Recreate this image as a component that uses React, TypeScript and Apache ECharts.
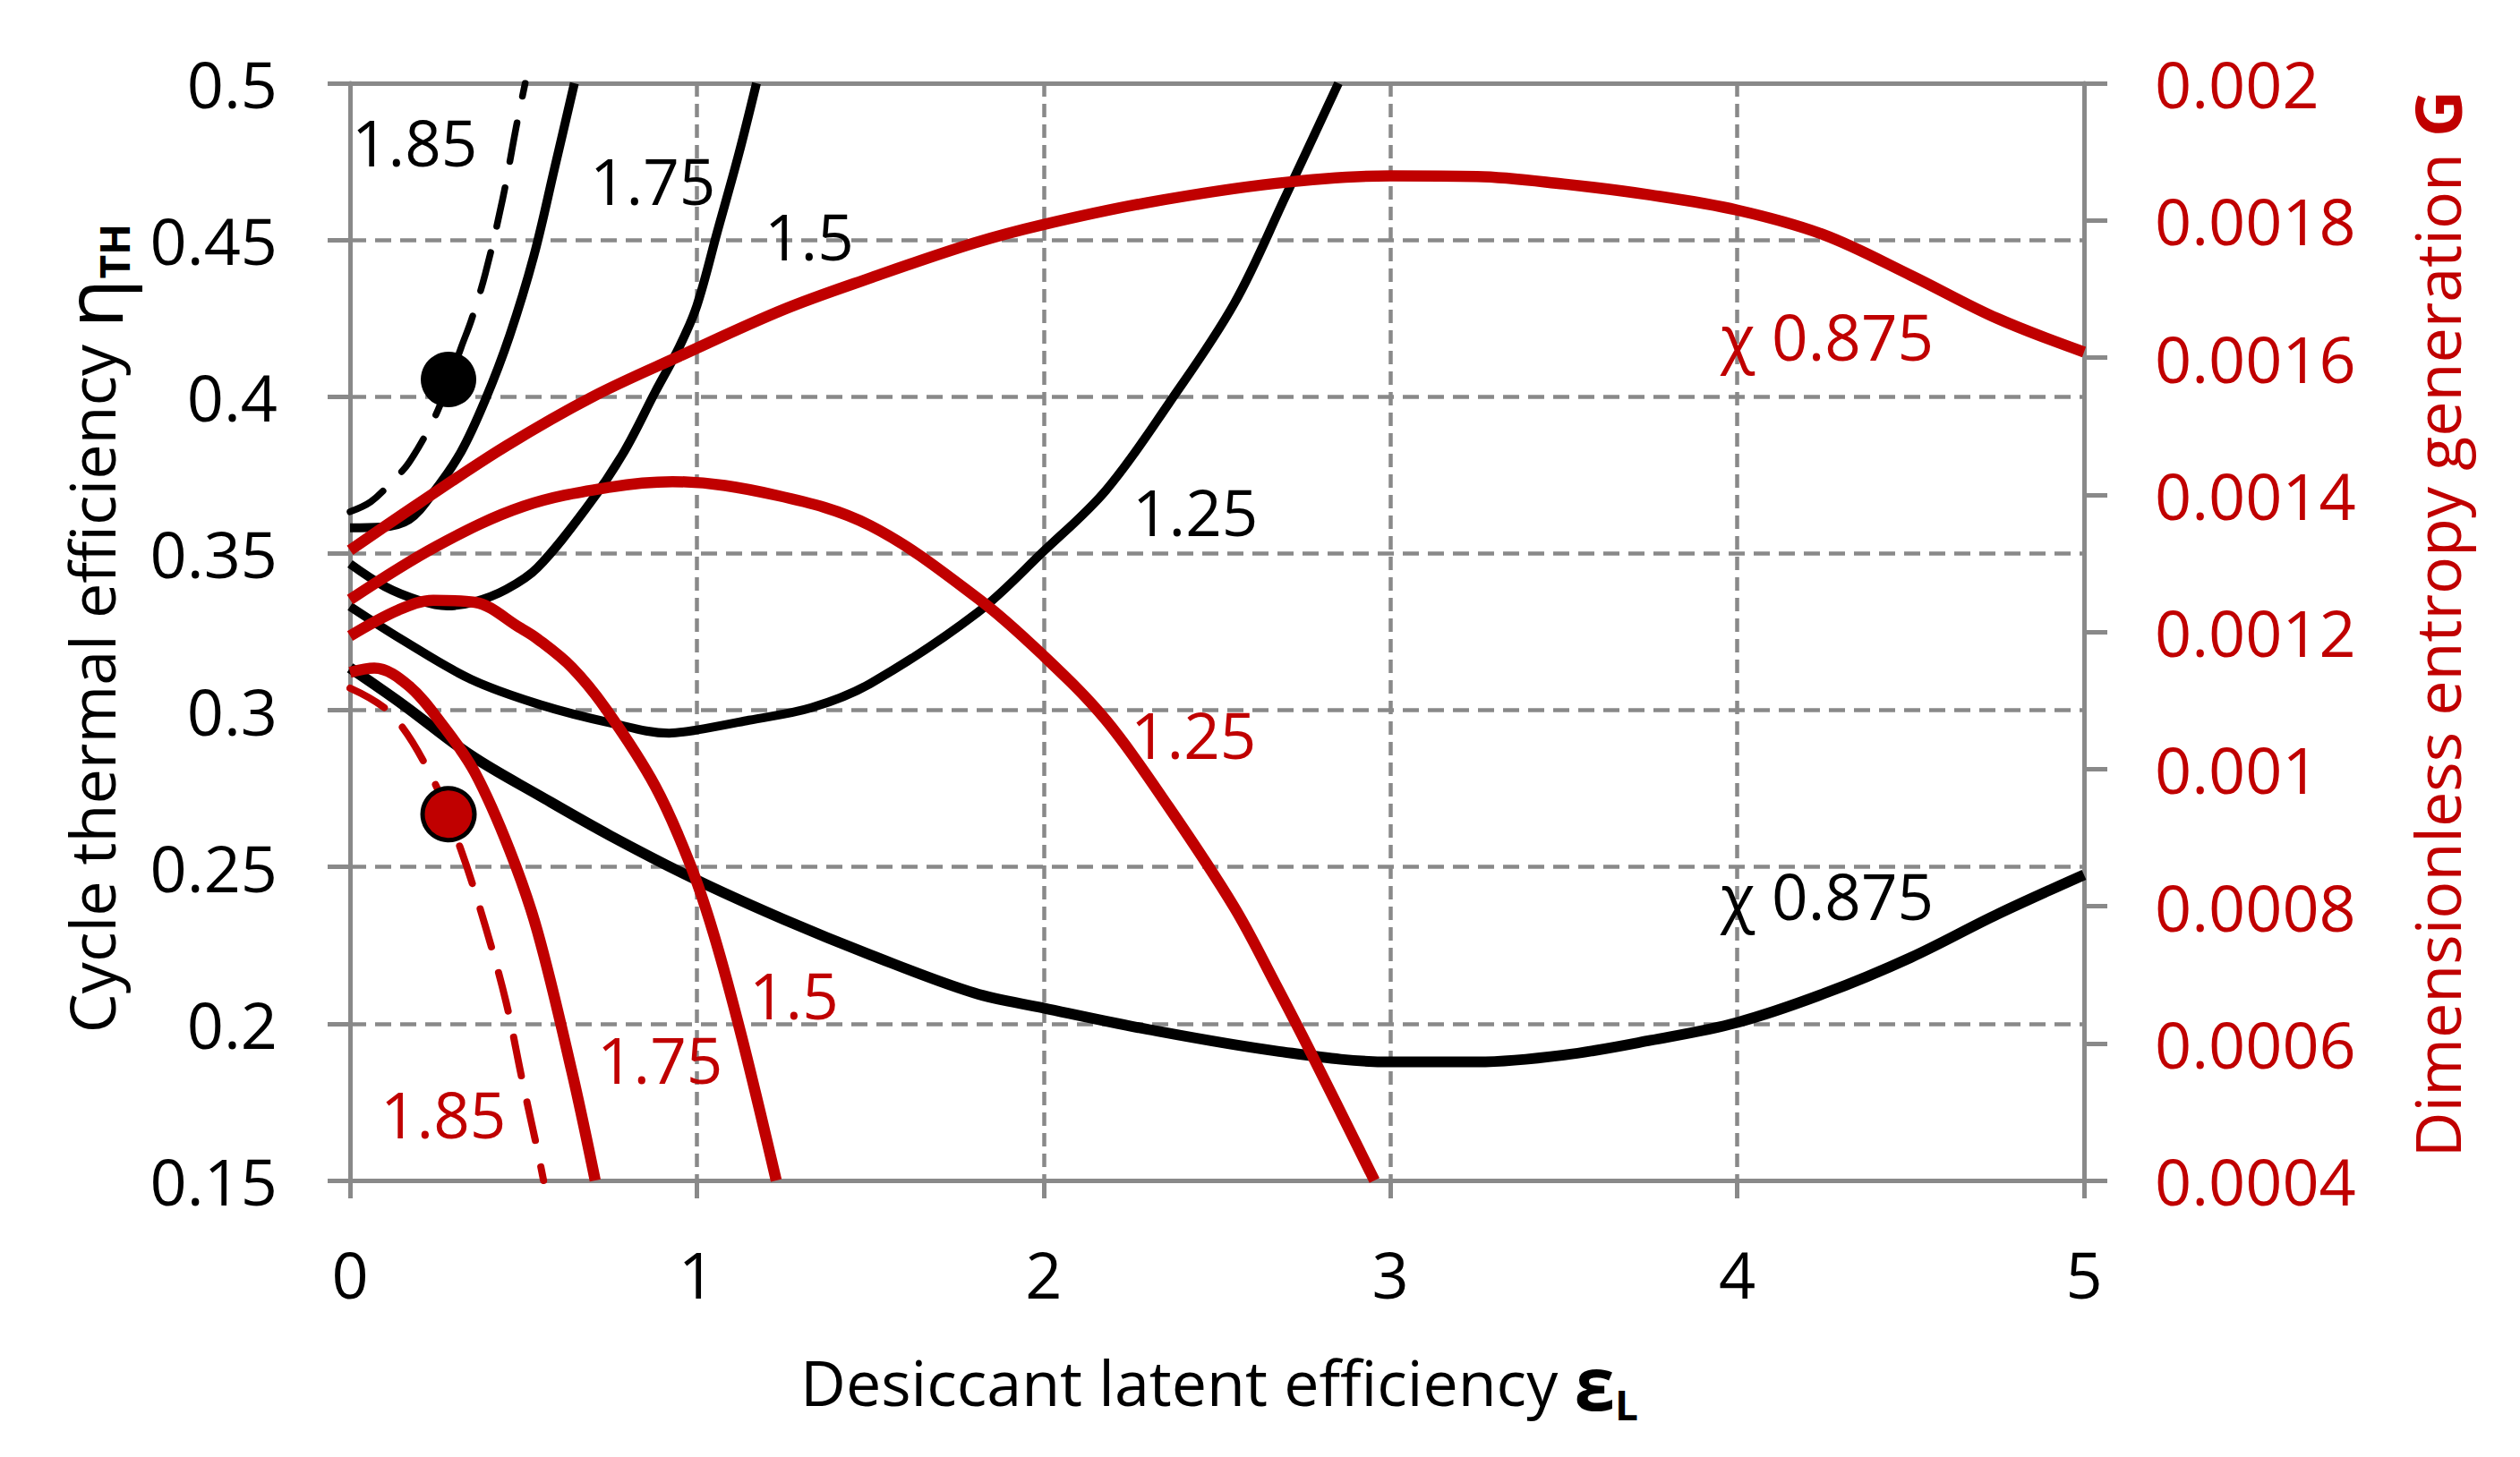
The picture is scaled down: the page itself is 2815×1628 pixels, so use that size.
import React, { useEffect, useRef } from "react";
import * as echarts from "echarts";

const FONT = "'Open Sans', 'DejaVu Sans', sans-serif";
const RED = "#C00000";
const BLACK = "#000000";
const GRAY = "#898989";

// Cycle thermal efficiency (left axis) vs desiccant latent efficiency, one curve per χ
const etaChi0875 = [[0, 0.3135], [0.15, 0.302], [0.35, 0.2855], [0.55, 0.2725], [0.75, 0.26], [1.0, 0.2458], [1.25, 0.2333], [1.5, 0.222], [1.8, 0.2098], [2.0, 0.205], [2.3, 0.1982], [2.67, 0.1913], [3.0, 0.1878], [3.25, 0.1878], [3.5, 0.19], [3.75, 0.1947], [4.0, 0.2004], [4.25, 0.2096], [4.5, 0.2211], [4.75, 0.2349], [5.0, 0.2475]];
const etaChi125 = [[0, 0.3331], [0.15, 0.3225], [0.35, 0.3098], [0.55, 0.3017], [0.75, 0.296], [0.92, 0.2927], [1.0, 0.2937], [1.15, 0.2968], [1.33, 0.3008], [1.5, 0.3085], [1.81, 0.3312], [2.0, 0.3507], [2.18, 0.3702], [2.36, 0.3977], [2.55, 0.4298], [2.7, 0.4645], [2.85, 0.5]];
const etaChi15 = [[0, 0.3467], [0.1, 0.3395], [0.2, 0.335], [0.28, 0.3333], [0.36, 0.3346], [0.45, 0.3385], [0.54, 0.3454], [0.69, 0.3658], [0.79, 0.3824], [0.88, 0.4015], [0.95, 0.416], [1.0, 0.429], [1.06, 0.453], [1.12, 0.477], [1.172, 0.5]];
const etaChi175 = [[0, 0.3582], [0.09, 0.3584], [0.17, 0.3608], [0.24, 0.3694], [0.32, 0.3824], [0.39, 0.399], [0.46, 0.4194], [0.53, 0.4449], [0.59, 0.473], [0.647, 0.5]];
const etaChi185 = [[0, 0.3633], [0.06, 0.3665], [0.12, 0.3728], [0.17, 0.379], [0.24, 0.3925], [0.285, 0.4045], [0.32, 0.4156], [0.35, 0.4245], [0.39, 0.4392], [0.44, 0.463], [0.48, 0.4865], [0.505, 0.5]];

// Dimensionless entropy generation G (right axis)
const genChi0875 = [[0, 0.001319], [0.2, 0.001388], [0.45, 0.001471], [0.7, 0.001543], [0.95, 0.001602], [1.25, 0.00167], [1.5, 0.001716], [1.8, 0.001767], [2.0, 0.001794], [2.3, 0.001826], [2.67, 0.001854], [3.0, 0.001865], [3.25, 0.001864], [3.5, 0.001853], [3.75, 0.001837], [4.0, 0.001815], [4.25, 0.001779], [4.5, 0.00172], [4.75, 0.001657], [5.0, 0.001608]];
const genChi125 = [[0, 0.001247], [0.25, 0.001325], [0.5, 0.001383], [0.75, 0.001411], [0.93, 0.001419], [1.23, 0.001399], [1.5, 0.001355], [1.81, 0.001249], [2.0, 0.001165], [2.18, 0.001071], [2.36, 0.000945], [2.55, 0.000798], [2.67, 0.000685], [2.77, 0.000587], [2.954, 0.0004]];
const genChi15 = [[0, 0.001194], [0.14, 0.001232], [0.24, 0.001246], [0.36, 0.001243], [0.49, 0.001206], [0.54, 0.00119], [0.64, 0.001148], [0.74, 0.001086], [0.88, 0.000975], [0.98, 0.000862], [1.05, 0.000757], [1.13, 0.000608], [1.229, 0.0004]];
const genChi175 = [[0, 0.001141], [0.07, 0.001147], [0.17, 0.001121], [0.27, 0.001062], [0.36, 0.000995], [0.46, 0.000882], [0.54, 0.000764], [0.64, 0.000558], [0.707, 0.0004]];
const genChi185 = [[0, 0.001118], [0.12, 0.00108], [0.24, 0.000984], [0.32, 0.000882], [0.39, 0.000771], [0.45, 0.00066], [0.495, 0.00055], [0.54, 0.000445], [0.558, 0.0004]];

// Marked operating points
const etaPoint = [[0.284, 0.4055]];
const genPoint = [[0.284, 0.000934]];

// Axis ranges
const xRange = [0, 5, 1];
const etaRange = [0.15, 0.5, 0.05];
const genRange = [0.0004, 0.002, 0.0002];

// Curve labels
const blackLabels = ["1.85", "1.75", "1.5", "1.25", "χ 0.875"];
const redLabels = ["1.85", "1.75", "1.5", "1.25", "χ 0.875"];

const blackLabelPos = [[393, 158], [659, 201], [854, 263], [1265, 571], [1922, 1000]];
const redLabelPos = [[425, 1244], [667, 1183], [837, 1111], [1263, 820], [1922, 375]];

function lineSeries(data: number[][], color: string, width: number, yAxisIndex: number, dashed: boolean, z: number) {
  return {
    type: "line",
    data,
    xAxisIndex: 0,
    yAxisIndex,
    showSymbol: false,
    symbol: "none",
    smooth: 0.35,
    clip: true,
    silent: true,
    z,
    lineStyle: {
      color,
      width,
      opacity: 1,
      type: dashed ? [44, 30] : "solid",
      cap: dashed ? "round" : "butt",
      join: "round",
    },
  };
}

export default function App() {
  const ref = useRef<HTMLDivElement>(null);
  useEffect(() => {
    if (!ref.current) return;
    const chart = echarts.init(ref.current, undefined, { renderer: "svg" });
    const labelText = (txt: string, color: string, pos: number[]) => ({
      type: "text",
      x: pos[0],
      y: pos[1],
      z: 100,
      silent: true,
      style: {
        text: txt,
        fill: color,
        font: `71px ${FONT}`,
        align: "left",
        verticalAlign: "middle",
        textAlign: "left",
        textVerticalAlign: "middle",
      },
    });
    const option: any = {
      animation: false,
      backgroundColor: "#ffffff",
      grid: { left: 391, top: 93, right: 2815 - 2328, bottom: 1628 - 1319, containLabel: false },
      xAxis: [
        {
          type: "value",
          position: "bottom",
          min: xRange[0],
          max: xRange[1],
          interval: xRange[2],
          axisLine: { show: true, onZero: false, lineStyle: { color: GRAY, width: 5 } },
          axisTick: { show: true, inside: false, length: 20, lineStyle: { color: GRAY, width: 5 } },
          axisLabel: { show: true, margin: 68, color: BLACK, fontSize: 72, fontFamily: FONT },
          splitLine: { show: true, lineStyle: { color: GRAY, width: 4.5, type: [15, 8] } },
        },
        {
          type: "value",
          position: "top",
          min: xRange[0],
          max: xRange[1],
          axisLine: { show: true, onZero: false, lineStyle: { color: GRAY, width: 5 } },
          axisTick: { show: false },
          axisLabel: { show: false },
          splitLine: { show: false },
        },
      ],
      yAxis: [
        {
          type: "value",
          position: "left",
          min: etaRange[0],
          max: etaRange[1],
          interval: etaRange[2],
          axisLine: { show: true, onZero: false, lineStyle: { color: GRAY, width: 5 } },
          axisTick: { show: true, inside: false, length: 25, lineStyle: { color: GRAY, width: 5 } },
          axisLabel: {
            show: true,
            margin: 81,
            color: BLACK,
            fontSize: 72,
            fontFamily: FONT,
            formatter: (v: number) => String(+v.toFixed(2)),
          },
          splitLine: { show: true, lineStyle: { color: GRAY, width: 4.5, type: [18, 10] } },
        },
        {
          type: "value",
          position: "right",
          min: genRange[0],
          max: genRange[1],
          interval: genRange[2],
          axisLine: { show: true, onZero: false, lineStyle: { color: GRAY, width: 5 } },
          axisTick: { show: true, inside: false, length: 26, lineStyle: { color: GRAY, width: 5 } },
          axisLabel: {
            show: true,
            margin: 79,
            color: RED,
            fontSize: 72,
            fontFamily: FONT,
            formatter: (v: number) => String(+v.toFixed(4)),
          },
          splitLine: { show: false },
        },
      ],
      series: [
        lineSeries(etaChi0875, BLACK, 12, 0, false, 2),
        lineSeries(etaChi125, BLACK, 10, 0, false, 2),
        lineSeries(etaChi15, BLACK, 10, 0, false, 2),
        lineSeries(etaChi175, BLACK, 10, 0, false, 2),
        lineSeries(etaChi185, BLACK, 7.5, 0, true, 2),
        lineSeries(genChi0875, RED, 12.5, 1, false, 3),
        lineSeries(genChi125, RED, 12.5, 1, false, 3),
        lineSeries(genChi15, RED, 12.5, 1, false, 3),
        lineSeries(genChi175, RED, 12.5, 1, false, 3),
        lineSeries(genChi185, RED, 8, 1, true, 3),
        {
          type: "scatter",
          data: etaPoint,
          xAxisIndex: 0,
          yAxisIndex: 0,
          symbol: "circle",
          symbolSize: 62,
          itemStyle: { color: BLACK, opacity: 1 },
          z: 5,
          silent: true,
        },
        {
          type: "scatter",
          data: genPoint,
          xAxisIndex: 0,
          yAxisIndex: 1,
          symbol: "circle",
          symbolSize: 58,
          itemStyle: { color: RED, borderColor: BLACK, borderWidth: 5, opacity: 1 },
          z: 5,
          silent: true,
        },
      ],
      graphic: [
        ...blackLabels.map((t, i) => labelText(t, BLACK, blackLabelPos[i])),
        ...redLabels.map((t, i) => labelText(t, RED, redLabelPos[i])),
        {
          type: "text",
          x: 102,
          y: 702,
          rotation: Math.PI / 2,
          silent: true,
          style: {
            text: "{a|Cycle thermal efficiency }{b|η}{c|TH}",
            align: "center",
            verticalAlign: "middle",
            textAlign: "center",
            textVerticalAlign: "middle",
            fill: BLACK,
            rich: {
              a: { fontSize: 70, fontFamily: FONT, fill: BLACK, color: BLACK, lineHeight: 96, verticalAlign: "middle" },
              b: { fontSize: 90, fontFamily: FONT, fill: BLACK, color: BLACK, lineHeight: 96, verticalAlign: "middle" },
              c: { fontSize: 46, fontFamily: FONT, fontWeight: "bold", fill: BLACK, color: BLACK, lineHeight: 40, verticalAlign: "bottom" },
            },
          },
        },
        {
          type: "text",
          x: 2722,
          y: 697,
          rotation: Math.PI / 2,
          silent: true,
          style: {
            text: "{a|Dimensionless entropy generation }{b|G}",
            align: "center",
            verticalAlign: "middle",
            textAlign: "center",
            textVerticalAlign: "middle",
            fill: RED,
            rich: {
              a: { fontSize: 70, fontFamily: FONT, fill: RED, color: RED },
              b: { fontSize: 72, fontFamily: FONT, fontWeight: "bold", fill: RED, color: RED },
            },
          },
        },
        {
          type: "text",
          x: 1362,
          y: 1544,
          silent: true,
          style: {
            text: "{a|Desiccant latent efficiency }{b|ε}{c|L}",
            align: "center",
            verticalAlign: "middle",
            textAlign: "center",
            textVerticalAlign: "middle",
            fill: BLACK,
            rich: {
              a: { fontSize: 70, fontFamily: FONT, fill: BLACK, color: BLACK, lineHeight: 96, verticalAlign: "middle" },
              b: { fontSize: 82, fontFamily: FONT, fontWeight: "bold", fill: BLACK, color: BLACK, lineHeight: 96, verticalAlign: "middle" },
              c: { fontSize: 46, fontFamily: FONT, fontWeight: "bold", fill: BLACK, color: BLACK, lineHeight: 40, verticalAlign: "bottom" },
            },
          },
        },
      ],
    };
    chart.setOption(option);
    return () => chart.dispose();
  }, []);
  return (
    <div
      ref={ref}
      style={{ position: "absolute", left: 0, top: 0, width: "2815px", height: "1628px", background: "#fff" }}
    />
  );
}
